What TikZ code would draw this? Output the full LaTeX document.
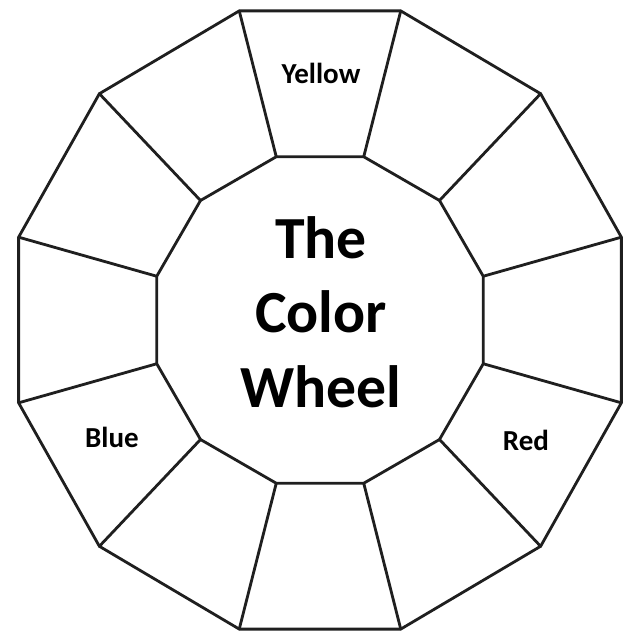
\documentclass[tikz,border=0pt]{standalone}
\usepackage{fontspec}
\setmainfont{Carlito}
\usepackage{tikz}

\begin{document}
\begin{tikzpicture}[
  x=0.02cm, y=0.02cm,
  ring/.style={draw=black!88, line width=1.6pt, line join=round},
  spoke/.style={draw=black!88, line width=1.6pt, line cap=round},
  lbl/.style={font=\fontsize{16.5}{20}\selectfont\bfseries, inner sep=0pt},
  title/.style={font=\fontsize{34}{42.5}\selectfont\bfseries, align=center, inner sep=0pt}
]
\useasboundingbox (-320,-315) rectangle (314,320);

% Corners of both rings
\foreach \i in {0,...,11} {
  \pgfmathsetmacro\ang{15+30*\i}
  \coordinate (o\i) at ({312*cos(\ang)},{320*sin(\ang)});
  \coordinate (c\i) at ({169*cos(\ang)},{169*sin(\ang)});
}

% Outer ring
\draw[ring] (o0) -- (o1) -- (o2) -- (o3) -- (o4) -- (o5) -- (o6)
  -- (o7) -- (o8) -- (o9) -- (o10) -- (o11) -- cycle;
% Inner ring
\draw[ring] (c0) -- (c1) -- (c2) -- (c3) -- (c4) -- (c5) -- (c6)
  -- (c7) -- (c8) -- (c9) -- (c10) -- (c11) -- cycle;
% Spokes
\foreach \i in {0,...,11}
  \draw[spoke] (c\i) -- (o\i);

% Labels
\node[lbl] (yellow) at (1,247) {Yellow};
\node[lbl] (blue)   at (-208,-117) {Blue};
\node[lbl] (red)    at (206,-120) {Red};
\node[title] (wheel) at (1,8) {The\\Color\\Wheel};
\end{tikzpicture}
\end{document}
